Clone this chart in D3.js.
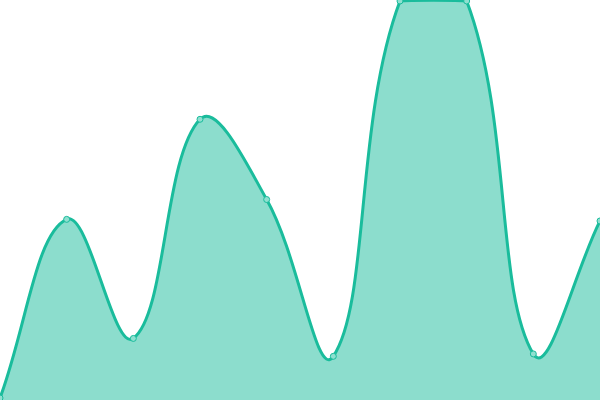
<!DOCTYPE html>
<html>
<head>
<meta charset="utf-8">
<script src="https://cdn.jsdelivr.net/npm/d3@7"></script>
<style>
  html, body { margin: 0; padding: 0; background: #fff; }
  svg { display: block; }
</style>
</head>
<body>
<svg id="chart"></svg>
<script>
// data
const labels = ["1", "2", "3", "4", "5", "6", "7", "8", "9", "10"];
const values = [0, 45, 15, 70.2, 50, 10.5, 100, 100, 11.1, 44.6];

const width = 600, height = 400;

const svg = d3.select("#chart")
  .attr("width", width)
  .attr("height", height);

const x = d3.scalePoint()
  .domain(labels)
  .range([0, width]);

const y = d3.scaleLinear()
  .domain([0, 100])
  .range([398, 1]);

// spline like the original (tension 0.4), control points kept inside the plot area
function curveTension(tension, x0, x1, y0, y1) {
  function Curve(context) { this._context = context; }
  Curve.prototype = {
    areaStart: function() { this._line = 0; },
    areaEnd: function() { this._line = NaN; },
    lineStart: function() { this._x = []; this._y = []; },
    point: function(px, py) { this._x.push(+px); this._y.push(+py); },
    lineEnd: function() {
      const xs = this._x, ys = this._y, n = xs.length;
      const cap = (v, lo, hi) => Math.max(Math.min(v, hi), lo);
      if (n) {
        this._line ? this._context.lineTo(xs[0], ys[0]) : this._context.moveTo(xs[0], ys[0]);
        const cp = [];
        for (let i = 0; i < n; i++) {
          const pi = Math.max(i - 1, 0), ni = Math.min(i + 1, n - 1);
          const d01 = Math.hypot(xs[i] - xs[pi], ys[i] - ys[pi]);
          const d12 = Math.hypot(xs[ni] - xs[i], ys[ni] - ys[i]);
          let s01 = d01 / (d01 + d12), s12 = d12 / (d01 + d12);
          if (isNaN(s01)) s01 = 0;
          if (isNaN(s12)) s12 = 0;
          const fa = tension * s01, fb = tension * s12;
          cp.push({
            px: cap(xs[i] - fa * (xs[ni] - xs[pi]), x0, x1),
            py: cap(ys[i] - fa * (ys[ni] - ys[pi]), y0, y1),
            nx: cap(xs[i] + fb * (xs[ni] - xs[pi]), x0, x1),
            ny: cap(ys[i] + fb * (ys[ni] - ys[pi]), y0, y1)
          });
        }
        for (let i = 1; i < n; i++) {
          this._context.bezierCurveTo(cp[i - 1].nx, cp[i - 1].ny, cp[i].px, cp[i].py, xs[i], ys[i]);
        }
      }
      if (this._line || (this._line !== 0 && n === 1)) this._context.closePath();
      this._line = 1 - this._line;
    }
  };
  return function(context) { return new Curve(context); };
}

const curve = curveTension(0.4, 0, width, 0, height);

const points = labels.map((d, i) => ({ label: d, value: values[i] }));

svg.append("path")
  .datum(points)
  .attr("fill", "rgba(26, 188, 156, 0.5)")
  .attr("d", d3.area()
    .curve(curve)
    .x(d => x(d.label))
    .y0(height)
    .y1(d => y(d.value)));

svg.append("path")
  .datum(points)
  .attr("fill", "none")
  .attr("stroke", "#1abc9c")
  .attr("stroke-width", 3)
  .attr("d", d3.line()
    .curve(curve)
    .x(d => x(d.label))
    .y(d => y(d.value)));

svg.selectAll("circle.dot")
  .data(points)
  .enter()
  .append("circle")
    .attr("class", "dot")
    .attr("cx", d => x(d.label))
    .attr("cy", d => y(d.value))
    .attr("r", 3)
    .attr("fill", "#8fe0d0")
    .attr("stroke", "#1abc9c")
    .attr("stroke-width", 1);
</script>
</body>
</html>
